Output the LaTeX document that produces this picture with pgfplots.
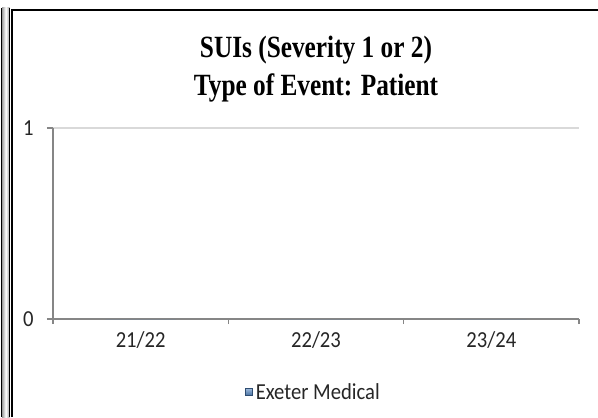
\documentclass[border=0pt]{standalone}
\usepackage{pgfplots}
\pgfplotsset{compat=1.18}
\usepackage{fontspec}
\setmainfont[FakeStretch=0.9]{Carlito}
\newfontfamily\titlefont[FakeStretch=0.82]{Liberation Serif}
\definecolor{axisgray}{HTML}{868686}
\definecolor{gridgray}{HTML}{D9D9D9}
\definecolor{barblue}{HTML}{4F81BD}
\begin{document}
\begin{tikzpicture}[x=1bp,y=1bp]
\useasboundingbox (0,0) rectangle (598,417);
% left double border
\shade[left color=gray!75, right color=gray!75, middle color=white] (2,0) rectangle (9.5,409);
\draw[line width=1.2bp] (1.6,0)--(1.6,409);
\draw[line width=1.4bp] (9.7,0)--(9.7,409);
\draw[line width=2bp] (11.8,0)--(11.8,407)--(598,407);
% title
\node[anchor=base, inner sep=0pt, font=\titlefont\bfseries\fontsize{31}{36}\selectfont] at (316,360) {SUIs (Severity 1 or 2)};
\node[anchor=base, inner sep=0pt, font=\titlefont\bfseries\fontsize{31}{36}\selectfont] at (316,322) {Type of Event: Patient};
\begin{axis}[
  at={(53bp,98bp)}, anchor=south west,
  scale only axis, width=526bp, height=191bp,
  xmin=-0.5, xmax=2.5, ymin=0, ymax=1,
  axis x line*=bottom, axis y line*=left,
  axis line style={-, axisgray, line width=1.3bp},
  every outer x axis line/.append style={-},
  every outer y axis line/.append style={-},
  xtick={0,1,2}, xticklabels={21/22,22/23,23/24},
  minor xtick={-0.5,0.5,1.5,2.5},
  major x tick style={draw=none},
  ytick={0,1},
  ymajorgrids, grid style={gridgray, line width=1.3bp},
  tick align=outside,
  major tick length=6bp, minor tick length=5bp,
  tick style={axisgray, line width=1.3bp},
  /pgf/number format/assume math mode=true,
  ticklabel style={font=\fontsize{23}{27}\selectfont, text=black!85},
  yticklabel style={xshift=-10bp},
  xticklabel style={yshift=-3bp},
  legend style={at={(0.495,-0.382)}, anchor=center, draw=none, fill=none,
    font=\fontsize{23}{27}\selectfont, text=black!85},
  legend image code/.code={\draw[draw=barblue!60!black, line width=0.6bp, top color=barblue!55, bottom color=barblue!85!black] (0bp,-3.6bp) rectangle (7.2bp,3.6bp);},
]
\addplot[ybar, bar width=0.4, fill=barblue, draw=none] coordinates {(0,0) (1,0) (2,0)};
\addlegendentry{\hspace{1bp}Exeter Medical}
\end{axis}
\end{tikzpicture}
\end{document}
